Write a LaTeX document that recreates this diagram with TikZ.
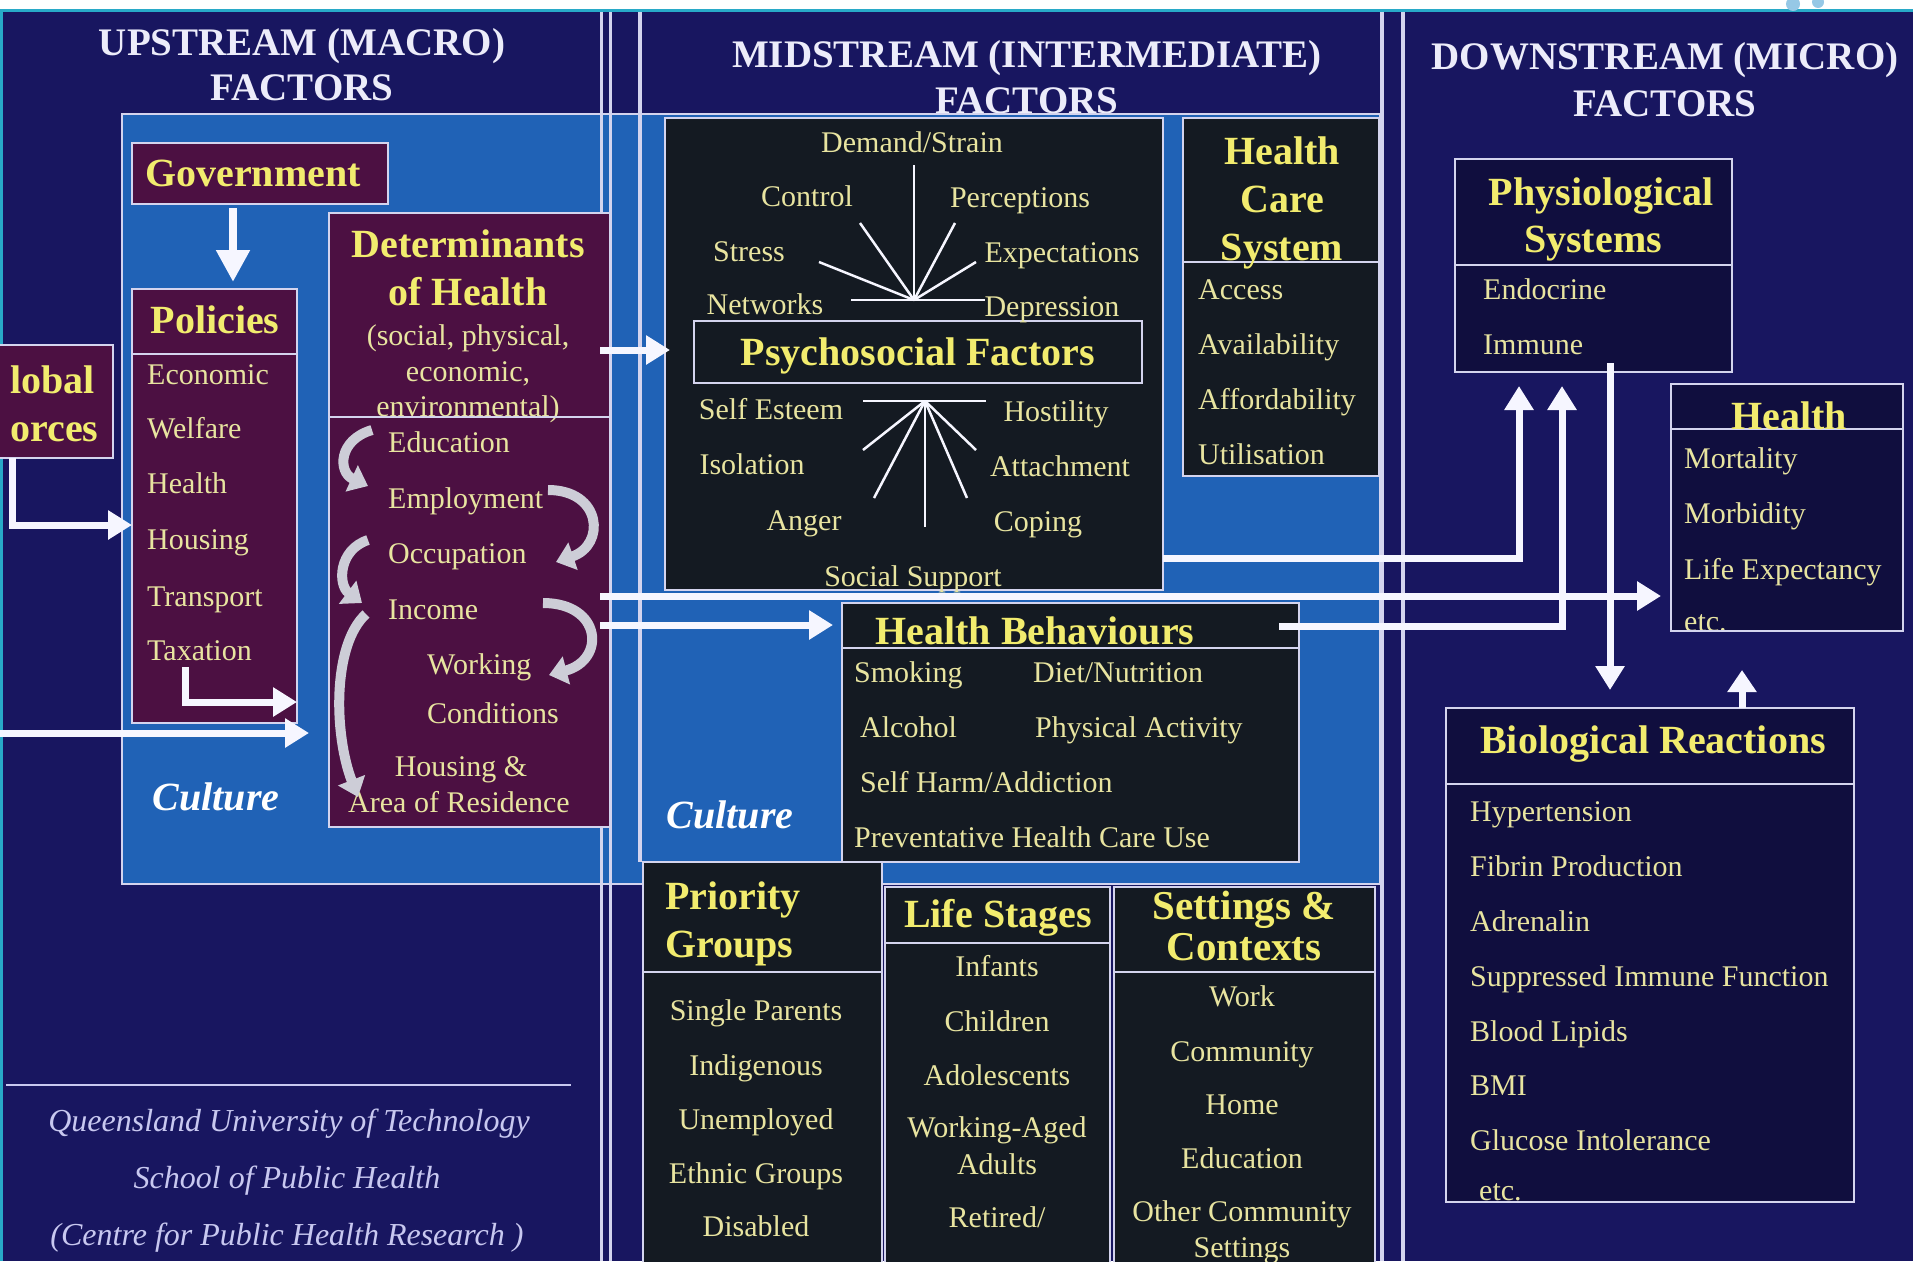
\documentclass[tikz,border=0pt]{standalone}
\usepackage{fontspec}
\setmainfont{Liberation Serif}
\usetikzlibrary{arrows.meta}
\definecolor{navy}{RGB}{24,22,96}
\definecolor{cblue}{RGB}{32,98,182}
\definecolor{maroon}{RGB}{76,16,66}
\definecolor{dark}{RGB}{20,26,34}
\definecolor{dnavy}{RGB}{16,14,62}
\definecolor{ylw}{RGB}{242,236,110}
\definecolor{itmc}{RGB}{232,228,160}
\definecolor{linec}{RGB}{212,212,238}
\definecolor{headc}{RGB}{236,236,250}
\definecolor{arrc}{RGB}{246,246,255}
\definecolor{curvc}{RGB}{205,205,215}
\definecolor{cyanl}{RGB}{40,170,200}
\definecolor{qutc}{RGB}{200,200,240}
\definecolor{logoc}{RGB}{150,200,230}
\newcommand\rbox[6]{\node[box,fill=#6,minimum width={(#4-#2)*1pt},minimum height={(#5-#3)*1pt}] (#1) at (#2,#3) {};}
\tikzset{
 box/.style={draw=linec,line width=2pt,anchor=north west,inner sep=0pt,outer sep=0pt},
 hd/.style={font=\bfseries\fontsize{40}{44}\selectfont,text=ylw,inner sep=0pt,text height=30pt,text depth=6pt},
 it/.style={font=\fontsize{30}{34}\selectfont,text=itmc,inner sep=0pt,text height=21pt,text depth=3pt},
 colhd/.style={font=\bfseries\fontsize{39}{44}\selectfont,text=headc,inner sep=0pt,text height=30pt,text depth=6pt},
 cult/.style={font=\bfseries\itshape\fontsize{40}{44}\selectfont,text=white,inner sep=0pt},
 qut/.style={font=\itshape\fontsize{32}{36}\selectfont,text=qutc,inner sep=0pt},
 arr/.style={draw=arrc,line width=7pt,-{Triangle[width=28pt,length=24pt]}},
 wl/.style={draw=arrc,line width=7pt},
 ray/.style={draw=arrc,line width=2.5pt},
 curv/.style={draw=curvc,line width=10pt,-{Triangle[width=28pt,length=18pt]}},
 sep/.style={draw=linec,line width=2pt},
 vl/.style={draw=linec,line width=3pt},
}
\begin{document}
\begin{tikzpicture}[x=1pt,y=-1pt]
\useasboundingbox (0,0) rectangle (1913,1261);
\fill[white] (0,0) rectangle (1913,10);
\fill[navy] (0,10) rectangle (1913,1261);
\draw[cyanl,line width=3pt] (0,10) -- (1913,10);
\draw[cyanl,line width=3pt] (1.5,10) -- (1.5,1261);
\fill[logoc] (1793,4) circle (7);
\fill[logoc] (1818,2) circle (6);

% column headers
\node[colhd] (uph1) at (302,43) {UPSTREAM (MACRO)};
\node[colhd] (uph2) at (302,88) {FACTORS};
\node[colhd] (mh1) at (1027,55) {MIDSTREAM (INTERMEDIATE)};
\node[colhd] (mh2) at (1027,101) {FACTORS};
\node[colhd] (dh1) at (1665,57) {DOWNSTREAM (MICRO)};
\node[colhd] (dh2) at (1665,104) {FACTORS};

% culture region
\rbox{culture}{122}{114}{1380}{884}{cblue}

% dividers
\draw[vl] (601,12) -- (601,1261);
\draw[vl] (610,12) -- (610,1261);
\draw[vl,line width=4pt] (640,12) -- (640,862);
\draw[vl,line width=4pt] (1382,12) -- (1382,1261);
\draw[vl,line width=4pt] (1403,12) -- (1403,1261);

% ---------- upstream
\rbox{gf}{-5}{345}{113}{458}{maroon}
\node[hd,anchor=west] (gf1) at (10,381) {lobal};
\node[hd,anchor=west] (gf2) at (10,429) {orces};

\rbox{gov}{132}{143}{388}{204}{maroon}
\node[hd] (govt) at (253,174) {Government};

\rbox{pol}{132}{289}{297}{723}{maroon}
\draw[sep] (132,354) -- (297,354);
\node[hd] (polt) at (215,321) {Policies};
\node[it,anchor=west] (p1) at (147,375) {Economic};
\node[it,anchor=west] (p2) at (147,429) {Welfare};
\node[it,anchor=west] (p3) at (147,484) {Health};
\node[it,anchor=west] (p4) at (147,540) {Housing};
\node[it,anchor=west] (p5) at (147,597) {Transport};
\node[it,anchor=west] (p6) at (147,651) {Taxation};

\rbox{det}{329}{213}{610}{827}{maroon}
\node[hd] (dt1) at (468,245) {Determinants};
\node[hd] (dt2) at (468,293) {of Health};
\node[it] (ds1) at (468,336) {(social, physical,};
\node[it] (ds2) at (468,372) {economic,};
\node[it] (ds3) at (468,407) {environmental)};
\draw[sep] (329,417) -- (610,417);
\node[it,anchor=west] (d1) at (388,443) {Education};
\node[it,anchor=west] (d2) at (388,499) {Employment};
\node[it,anchor=west] (d3) at (388,554) {Occupation};
\node[it,anchor=west] (d4) at (388,610) {Income};
\node[it,anchor=west] (d5) at (427,665) {Working};
\node[it,anchor=west] (d6) at (427,714) {Conditions};
\node[it] (d7) at (461,767) {Housing \&};
\node[it] (d8) at (459,803) {Area of Residence};

\node[cult] (cul1) at (216,797) {Culture};

% curved arrows inside determinants
\draw[curv] (372,430) .. controls (338,440) and (338,472) .. (368,486);
\draw[curv] (548,490) .. controls (602,490) and (606,545) .. (556,562);
\draw[curv] (368,540) .. controls (338,550) and (338,585) .. (362,603);
\draw[curv] (366,614) .. controls (332,645) and (334,735) .. (358,797);
\draw[curv] (543,603) .. controls (602,603) and (606,660) .. (549,675);

% ---------- midstream
\rbox{psy}{665}{118}{1163}{590}{dark}
\rbox{psyf}{694}{321}{1142}{383}{dark}
\node[hd] (psyt) at (918,353) {Psychosocial Factors};
\node[it] (s1) at (912,143) {Demand/Strain};
\node[it] (s2) at (807,197) {Control};
\node[it] (s3) at (1020,198) {Perceptions};
\node[it] (s4) at (749,252) {Stress};
\node[it] (s5) at (1062,253) {Expectations};
\node[it] (s6) at (765,305) {Networks};
\node[it] (s7) at (1052,307) {Depression};
\node[it] (s8) at (771,410) {Self Esteem};
\node[it] (s9) at (1056,412) {Hostility};
\node[it] (s10) at (752,465) {Isolation};
\node[it] (s11) at (1060,467) {Attachment};
\node[it] (s12) at (804,521) {Anger};
\node[it] (s13) at (1038,522) {Coping};
\node[it] (s14) at (913,577) {Social Support};
\coordinate (ptop) at (914,300);
\coordinate (pbot) at (925,401);
\draw[ray] (ptop) -- (914,165);
\draw[ray] (ptop) -- (860,223);
\draw[ray] (ptop) -- (955,223);
\draw[ray] (ptop) -- (819,262);
\draw[ray] (ptop) -- (976,262);
\draw[ray] (851,300) -- (985,300);
\draw[ray] (863,401) -- (986,401);
\draw[ray] (pbot) -- (863,450);
\draw[ray] (pbot) -- (976,450);
\draw[ray] (pbot) -- (874,498);
\draw[ray] (pbot) -- (967,498);
\draw[ray] (pbot) -- (925,527);

\rbox{hcs}{1183}{118}{1379}{476}{dark}
\draw[sep] (1183,262) -- (1379,262);
\node[hd] (h1) at (1282,152) {Health};
\node[hd] (h2) at (1282,200) {Care};
\node[hd] (h3) at (1282,248) {System};
\node[it,anchor=west] (hc1) at (1198,290) {Access};
\node[it,anchor=west] (hc2) at (1198,345) {Availability};
\node[it,anchor=west] (hc3) at (1198,400) {Affordability};
\node[it,anchor=west] (hc4) at (1198,455) {Utilisation};

\rbox{hb}{842}{603}{1299}{862}{dark}
\draw[sep] (842,648) -- (1299,648);
\node[hd] (hbt) at (1035,632) {Health Behaviours};
\node[it,anchor=west] (b1) at (854,673) {Smoking};
\node[it,anchor=west] (b2) at (1033,673) {Diet/Nutrition};
\node[it,anchor=west] (b3) at (860,728) {Alcohol};
\node[it,anchor=west] (b4) at (1035,728) {Physical Activity};
\node[it,anchor=west] (b5) at (860,783) {Self Harm/Addiction};
\node[it,anchor=west] (b6) at (854,838) {Preventative Health Care Use};

\node[cult] (cul2) at (730,815) {Culture};

\rbox{pg}{643}{862}{882}{1270}{dark}
\draw[sep] (643,972) -- (882,972);
\node[hd,anchor=west] (pg1) at (665,897) {Priority};
\node[hd,anchor=west] (pg2) at (665,945) {Groups};
\node[it] (g1) at (756,1011) {Single Parents};
\node[it] (g2) at (756,1066) {Indigenous};
\node[it] (g3) at (756,1120) {Unemployed};
\node[it] (g4) at (756,1174) {Ethnic Groups};
\node[it] (g5) at (756,1227) {Disabled};

\rbox{ls}{885}{887}{1110}{1270}{dark}
\draw[sep] (885,943) -- (1110,943);
\node[hd] (lst) at (998,915) {Life Stages};
\node[it] (l1) at (997,967) {Infants};
\node[it] (l2) at (997,1022) {Children};
\node[it] (l3) at (997,1076) {Adolescents};
\node[it] (l4) at (997,1128) {Working-Aged};
\node[it] (l5) at (997,1165) {Adults};
\node[it] (l6) at (997,1218) {Retired/};

\rbox{sc}{1114}{887}{1375}{1270}{dark}
\draw[sep] (1114,972) -- (1375,972);
\node[hd,font=\bfseries\fontsize{41}{44}\selectfont,text height=28pt,text depth=5pt] (sc1) at (1244,908) {Settings \&};
\node[hd,font=\bfseries\fontsize{41}{44}\selectfont,text height=28pt,text depth=5pt] (sc2) at (1244,949) {Contexts};
\node[it] (c1) at (1242,997) {Work};
\node[it] (c2) at (1242,1052) {Community};
\node[it] (c3) at (1242,1105) {Home};
\node[it] (c4) at (1242,1159) {Education};
\node[it] (c5) at (1242,1212) {Other Community};
\node[it] (c6) at (1242,1248) {Settings};

% ---------- downstream
\rbox{phys}{1455}{159}{1732}{372}{dnavy}
\draw[sep] (1455,265) -- (1732,265);
\node[hd] (ph1) at (1601,193) {Physiological};
\node[hd] (ph2) at (1593,240) {Systems};
\node[it,anchor=west] (ph3) at (1483,290) {Endocrine};
\node[it,anchor=west] (ph4) at (1483,345) {Immune};

\rbox{hl}{1671}{384}{1903}{631}{dnavy}
\draw[sep] (1671,429) -- (1903,429);
\node[hd] (hlt) at (1789,417) {Health};
\node[it,anchor=west] (hl1) at (1684,459) {Mortality};
\node[it,anchor=west] (hl2) at (1684,514) {Morbidity};
\node[it,anchor=west] (hl3) at (1684,570) {Life Expectancy};
\node[it,anchor=west] (hl4) at (1684,622) {etc.};
\draw[sep] (1671,631) -- (1903,631);

\rbox{bio}{1446}{708}{1854}{1202}{dnavy}
\draw[sep] (1446,784) -- (1854,784);
\node[hd] (biot) at (1653,741) {Biological Reactions};
\node[it,anchor=west] (r1) at (1470,812) {Hypertension};
\node[it,anchor=west] (r2) at (1470,867) {Fibrin Production};
\node[it,anchor=west] (r3) at (1470,922) {Adrenalin};
\node[it,anchor=west] (r4) at (1470,977) {Suppressed Immune Function};
\node[it,anchor=west] (r5) at (1470,1032) {Blood Lipids};
\node[it,anchor=west] (r6) at (1470,1086) {BMI};
\node[it,anchor=west] (r7) at (1470,1141) {Glucose Intolerance};
\node[it,anchor=west] (r8) at (1479,1191) {etc.};
\draw[sep] (1446,1202) -- (1854,1202);

% ---------- credit
\draw[draw=qutc,line width=2.5pt] (6,1085) -- (571,1085);
\node[qut] (q1) at (289,1124) {Queensland University of Technology};
\node[qut] (q2) at (287,1181) {School of Public Health};
\node[qut] (q3) at (287,1238) {(Centre for Public Health Research )};

% ---------- arrows
\coordinate (govA) at (233,208);
\coordinate (polA) at (233,282);
\draw[arr,line width=8pt,-{Triangle[width=32pt,length=32pt]}] (govA) -- (polA);
\coordinate (gfA) at (12,458);
\coordinate (polB) at (132,525);
\draw[arr] (gfA) |- (polB);
\coordinate (taxA) at (185,667);
\coordinate (polC) at (297,702);
\draw[arr] (taxA) |- (polC);
\coordinate (leftA) at (0,733);
\coordinate (detA) at (309,733);
\draw[arr] (leftA) -- (detA);
\coordinate (detB) at (600,350);
\coordinate (psyA) at (670,350);
\draw[arr] (detB) -- (psyA);
\coordinate (detC) at (600,596);
\coordinate (hlA) at (1661,596);
\draw[arr] (detC) -- (hlA);
\coordinate (detD) at (600,625);
\coordinate (hbA) at (833,625);
\draw[arr] (detD) -- (hbA);
\coordinate (psyB) at (1163,558);
\coordinate (physA) at (1519,386);
\draw[arr] (psyB) -| (physA);
\coordinate (hbB) at (1279,626);
\coordinate (physB) at (1562,386);
\draw[arr] (hbB) -| (physB);
\coordinate (physC) at (1610,363);
\coordinate (bioA) at (1610,690);
\draw[arr] (physC) -- (bioA);
\coordinate (bioB) at (1742,708);
\coordinate (hlB) at (1742,670);
\draw[arr,-{Triangle[width=28pt,length=22pt]}] (bioB) -- (hlB);
\end{tikzpicture}
\end{document}
